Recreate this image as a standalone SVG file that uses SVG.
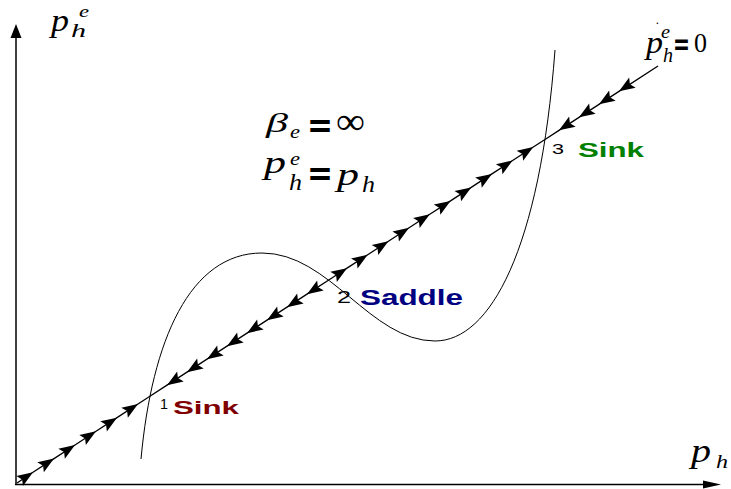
<svg xmlns="http://www.w3.org/2000/svg" width="731" height="489" viewBox="0 0 731 489">
<style>
.m{font-family:"Liberation Serif","Times New Roman",serif;font-style:italic;fill:#000}
.r{font-family:"Liberation Serif","Times New Roman",serif;fill:#000}
.eq{font-family:"DejaVu Sans",sans-serif;font-weight:bold;fill:#000}
.lbl{font-family:"Liberation Sans",Arial,sans-serif;font-weight:bold}
.num{font-family:"Liberation Sans",Arial,sans-serif;fill:#000}
.traj{fill:none;stroke:#000;stroke-width:1.3;marker-mid:url(#ah)}
.axis{stroke:#000;stroke-width:1.5;fill:none}
.curve{fill:none;stroke:#000;stroke-width:1}
</style>
<defs>
<marker id="ah" viewBox="-17 -7 18 14" refX="0" refY="0" markerWidth="18" markerHeight="14" markerUnits="userSpaceOnUse" orient="auto">
<path d="M0,0 L-16,-6 L-13,0 L-16,6 Z" fill="#000"/>
</marker>
</defs>
<rect width="731" height="489" fill="#fff"/>
<g id="axes">
<line class="axis" x1="16" y1="485" x2="16" y2="34"/>
<polygon points="16,24 10.5,38 21.5,38" fill="#000"/>
<line class="axis" x1="15" y1="484.5" x2="706" y2="484.5"/>
<polygon points="721,484.5 703,480.5 703,488.5" fill="#000"/>
</g>
<g id="nullcline">
<path class="curve" d="M141,459 C152,340 190,253 262,253 C330,253 370,341 435,341 C490,341 540,250 555,50"/>
</g>
<g id="connectors">
<path class="traj" d="M17,483 L33,472.25 L54,458.6 L75,444.95 L96,431.3 L117,417.65 L138,404 L148,397.5"/>
<path class="traj" d="M333,277.25 L307,294.15 L287,307.15 L267,320.15 L247,333.15 L227,346.15 L207,359.15 L187,372.15 L167,385.15 L148,397.5"/>
<path class="traj" d="M333,277.25 L347,268.15 L367.7,254.7 L388.4,241.2 L409.1,227.8 L429.8,214.3 L450.5,200.9 L471.2,187.4 L491.9,173.9 L512.6,160.5 L533.3,147 L545,139.45"/>
<path class="traj" d="M658,66 L619,91.35 L599,104.35 L579,117.35 L559,130.35 L545,139.45"/>
</g>
<g id="point1">
<text class="num" x="160" y="409" font-size="15" textLength="8" lengthAdjust="spacingAndGlyphs">1</text>
<text class="lbl" x="173" y="414" font-size="19" fill="#800000" textLength="66" lengthAdjust="spacingAndGlyphs">Sink</text>
</g>
<g id="point2">
<text class="num" x="337" y="303" font-size="17" textLength="14" lengthAdjust="spacingAndGlyphs">2</text>
<text class="lbl" x="360" y="305" font-size="22" fill="#000080" textLength="103" lengthAdjust="spacingAndGlyphs">Saddle</text>
</g>
<g id="point3">
<text class="num" x="552" y="154" font-size="15" textLength="12" lengthAdjust="spacingAndGlyphs">3</text>
<text class="lbl" x="578" y="157" font-size="20" fill="#008000" textLength="66" lengthAdjust="spacingAndGlyphs">Sink</text>
</g>
<g id="label-y">
<text class="m" x="51" y="31" font-size="31" textLength="18" lengthAdjust="spacingAndGlyphs">p</text>
<text class="m" x="79" y="17" font-size="17" textLength="10" lengthAdjust="spacingAndGlyphs">e</text>
<text class="m" x="71" y="37" font-size="18" textLength="15" lengthAdjust="spacingAndGlyphs">h</text>
</g>
<g id="label-x">
<text class="m" x="691" y="462" font-size="33" textLength="20" lengthAdjust="spacingAndGlyphs">p</text>
<text class="m" x="716" y="468" font-size="19" textLength="12" lengthAdjust="spacingAndGlyphs">h</text>
</g>
<g id="label-nullcline">
<text class="r" x="655" y="32" font-size="14">˙</text>
<text class="m" x="646" y="53" font-size="32" textLength="17" lengthAdjust="spacingAndGlyphs">p</text>
<text class="m" x="661" y="38" font-size="18" textLength="9" lengthAdjust="spacingAndGlyphs">e</text>
<text class="m" x="663" y="62" font-size="20" textLength="10" lengthAdjust="spacingAndGlyphs">h</text>
<text class="eq" x="673" y="54" font-size="30" textLength="17" lengthAdjust="spacingAndGlyphs">=</text>
<text class="r" x="694" y="52" font-size="28" textLength="13" lengthAdjust="spacingAndGlyphs">0</text>
</g>
<g id="equations">
<text class="m" x="266" y="132" font-size="28" textLength="22" lengthAdjust="spacingAndGlyphs">β</text>
<text class="m" x="290" y="138" font-size="18" textLength="10" lengthAdjust="spacingAndGlyphs">e</text>
<text class="eq" x="307" y="137" font-size="34" textLength="26" lengthAdjust="spacingAndGlyphs">=</text>
<text class="r" x="336" y="134" font-size="38" textLength="29" lengthAdjust="spacingAndGlyphs">∞</text>
<text class="m" x="264" y="173" font-size="32" textLength="22" lengthAdjust="spacingAndGlyphs">p</text>
<text class="m" x="290" y="165" font-size="18" textLength="10" lengthAdjust="spacingAndGlyphs">e</text>
<text class="m" x="289" y="190" font-size="24" textLength="13" lengthAdjust="spacingAndGlyphs">h</text>
<text class="eq" x="307" y="185" font-size="34" textLength="26" lengthAdjust="spacingAndGlyphs">=</text>
<text class="m" x="337" y="185" font-size="32" textLength="22" lengthAdjust="spacingAndGlyphs">p</text>
<text class="m" x="362" y="192" font-size="24" textLength="13" lengthAdjust="spacingAndGlyphs">h</text>
</g>
</svg>
